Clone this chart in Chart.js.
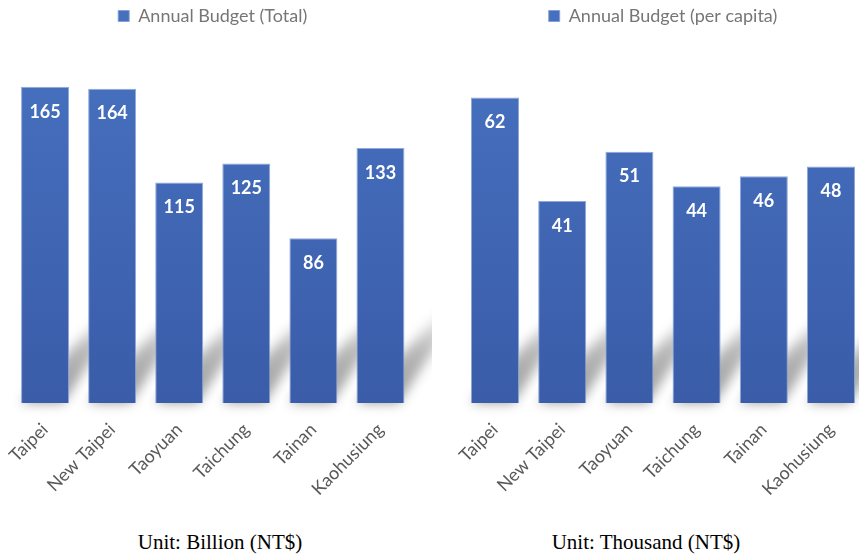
<!DOCTYPE html>
<html>
<head>
<meta charset="utf-8">
<script src="https://cdn.jsdelivr.net/npm/chart.js@4/dist/chart.umd.min.js"></script>
<style>
  html, body { margin: 0; padding: 0; background: #fff; overflow: hidden; width: 859px; height: 555px; }
  #wrap { position: relative; width: 859px; height: 555px; overflow: hidden; }
  .pane { position: absolute; top: 0; height: 520px; }
  #left { left: 0; width: 432px; }
  #right { left: 445px; width: 440px; }
  .unit { position: absolute; top: 530px; font-family: "Liberation Serif", "Times New Roman", serif;
          font-size: 21px; line-height: 24px; color: #000; white-space: nowrap; transform: translateX(-50%); }
</style>
</head>
<body>
<div id="wrap">
  <div class="pane" id="left"><canvas id="cTotal"></canvas></div>
  <div class="pane" id="right"><canvas id="cCapita"></canvas></div>
  <div class="unit" style="left:220px">Unit: Billion (NT$)</div>
  <div class="unit" style="left:646px">Unit: Thousand (NT$)</div>
</div>
<script>
// Municipal budgets of Taiwan's six special municipalities
const cities = ['Taipei', 'New Taipei', 'Taoyuan', 'Taichung', 'Tainan', 'Kaohusiung'];
const budgetTotal = [165, 164, 115, 125, 86, 133];      // billion NT$
const budgetPerCapita = [62, 41, 51, 44, 46, 48];       // thousand NT$
const totalAxisMax = 180;
const perCapitaAxisMax = 70;

// Extra room between the legend and the plot area
const legendGap = {
  id: 'legendGap',
  afterInit(chart, args, opts) {
    const legend = chart.legend;
    if (!legend) return;
    const fit = legend.fit.bind(legend);
    legend.fit = function () {
      fit();
      this.height += opts.gap || 0;
    };
  }
};

// Soft perspective shadow cast up and to the right behind each bar
const barShadow = {
  id: 'barShadow',
  beforeDatasetsDraw(chart) {
    const ctx = chart.ctx;
    ctx.save();
    ctx.filter = 'blur(6px)';
    chart.getDatasetMeta(0).data.forEach(bar => {
      const { x, width, base } = bar.getProps(['x', 'width', 'base'], true);
      const h = 95;
      const l = x - width / 2, r = x + width / 2;
      const g = ctx.createLinearGradient(0, base, 0, base - h);
      g.addColorStop(0, 'rgba(0,0,0,0.4)');
      g.addColorStop(0.55, 'rgba(0,0,0,0.28)');
      g.addColorStop(1, 'rgba(0,0,0,0.02)');
      ctx.fillStyle = g;
      ctx.beginPath();
      ctx.moveTo(l, base);
      ctx.lineTo(r - 6, base);
      ctx.lineTo(r + 0.6 * h, base - h);
      ctx.lineTo(r + 0.42 * h, base - h);
      ctx.closePath();
      ctx.fill();
    });
    ctx.restore();
  }
};

// White value text near the top of each bar
const valueLabels = {
  id: 'valueLabels',
  afterDatasetsDraw(chart) {
    const ctx = chart.ctx;
    const values = chart.data.datasets[0].data;
    ctx.save();
    ctx.font = 'bold 18px Lato';
    ctx.fillStyle = '#ffffff';
    ctx.textAlign = 'center';
    ctx.textBaseline = 'middle';
    chart.getDatasetMeta(0).data.forEach((bar, i) => {
      ctx.fillText(String(values[i]), bar.x, bar.y + 25);
    });
    ctx.restore();
  }
};

function barFill(context) {
  const chart = context.chart;
  const area = chart.chartArea;
  if (!area) return '#4068B6';
  const g = chart.ctx.createLinearGradient(0, area.top, 0, area.bottom);
  g.addColorStop(0, '#4670BE');
  g.addColorStop(1, '#3A5CA9');
  return g;
}

function makeChart(canvasId, label, values, yMax, pad) {
  return new Chart(document.getElementById(canvasId), {
    type: 'bar',
    data: {
      labels: cities,
      datasets: [{
        label: label,
        data: values,
        backgroundColor: barFill,
        borderColor: 'rgba(130,160,215,0.9)',
        borderWidth: 1,
        categoryPercentage: 1,
        barPercentage: 0.715
      }]
    },
    options: {
      responsive: true,
      maintainAspectRatio: false,
      animation: false,
      layout: { padding: pad },
      plugins: {
        legend: {
          position: 'top',
          labels: {
            boxWidth: 11,
            boxHeight: 11,
            color: '#767676',
            font: { family: 'Lato', size: 18 },
            padding: 7
          }
        },
        legendGap: { gap: 23 },
        tooltip: { enabled: false }
      },
      scales: {
        x: {
          grid: { display: false, drawTicks: false },
          border: { display: false },
          ticks: {
            color: '#595959',
            font: { family: 'Lato', size: 18 },
            minRotation: 45,
            maxRotation: 45,
            autoSkip: false,
            padding: 16
          },
          afterFit(scale) {
            scale.height = 117;
            scale.paddingLeft = 0;
            scale.paddingRight = 0;
          }
        },
        y: {
          display: false,
          min: 0,
          max: yMax
        }
      }
    },
    plugins: [legendGap, barShadow, valueLabels]
  });
}

makeChart('cTotal', 'Annual Budget (Total)', budgetTotal, totalAxisMax,
  { top: 0, left: 11.5, right: 18, bottom: 0 });
makeChart('cCapita', 'Annual Budget (per capita)', budgetPerCapita, perCapitaAxisMax,
  { top: 0, left: 16.4, right: 20.4, bottom: 0 });
</script>
</body>
</html>
